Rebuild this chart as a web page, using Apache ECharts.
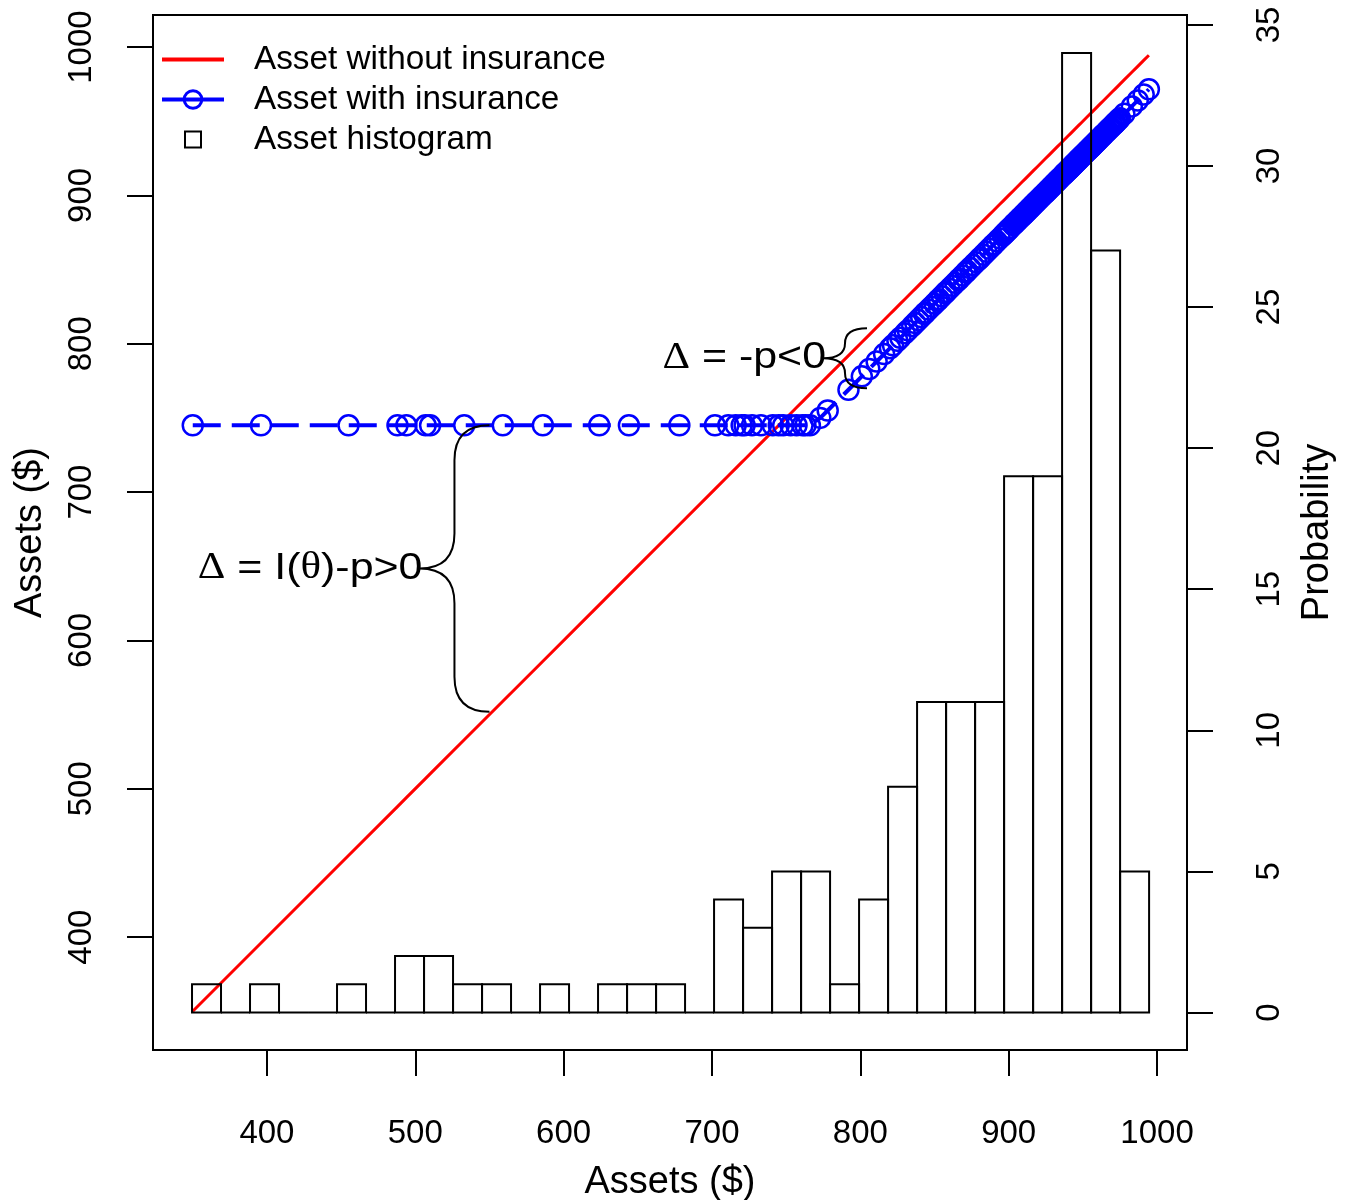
<!DOCTYPE html>
<html>
<head>
<meta charset="utf-8">
<script src="https://cdn.jsdelivr.net/npm/echarts@6/dist/echarts.min.js"></script>
<style>
  html, body { margin: 0; padding: 0; background: #ffffff; }
  #chart { width: 1352px; height: 1200px; }
</style>
</head>
<body>
<div id="chart"></div>
<script>
// Tick values for the asset axes and the probability axis
const assetTicks = [400, 500, 600, 700, 800, 900, 1000];
const probabilityTicks = [0, 5, 10, 15, 20, 25, 30, 35];

// Sample of final asset values (sorted), without insurance
const assetsWithout = [
  350, 396, 455, 488, 494, 507, 510, 533, 559, 586, 624, 644, 678,
  702, 711, 716, 720, 722, 727, 733, 741, 745, 748, 753, 757, 761, 763, 766, 773, 778, 792,
  801, 806, 811, 816,
  820, 822, 825, 827, 830, 832, 835, 837,
  839, 841, 843, 844, 846, 848, 850, 852, 853, 855, 857,
  858, 860, 862, 864, 866, 867, 869, 871, 872, 874, 876,
  878, 880, 881, 883, 885, 887, 889, 890, 892, 894, 896,
  897, 898, 899, 900, 901, 903, 904, 905, 906, 907, 908, 909, 910, 911, 912, 913, 914, 915, 916,
  917, 918, 919, 920, 921, 922, 923, 924, 925, 926, 927, 928, 929, 930, 931, 932, 933, 934, 935,
  936.5, 937, 937.5, 938, 938.5, 939, 940, 940.5, 941, 941.5, 942, 943, 943.5, 944, 944.5, 945, 946,
  946.5, 947, 947.5, 948, 949, 949.5, 950, 950.5, 951, 952, 952.5, 953, 953.5, 954, 954.5, 955, 955.5,
  956, 956.5, 957, 958, 958.5, 959, 960, 960.5, 961, 962, 963, 963.5, 964, 965, 966, 966.5, 967,
  968, 968.5, 969, 970, 971, 971.5, 972, 973, 974, 975,
  978, 983, 987, 991, 994.5
];

// The same outcomes once the insurance contract is in place
const assetsWith = [
  745, 745, 745, 745, 745, 745, 745, 745, 745, 745, 745, 745, 745,
  745, 745, 745, 745, 745, 745, 745, 745, 745, 745, 745, 745, 745, 745, 745, 750, 755, 769,
  778, 783, 788, 793,
  797, 799, 802, 804, 807, 809, 812, 814,
  816, 818, 820, 821, 823, 825, 827, 829, 830, 832, 834,
  835, 837, 839, 841, 843, 844, 846, 848, 849, 851, 853,
  855, 857, 858, 860, 862, 864, 866, 867, 869, 871, 873,
  874, 875, 876, 877, 878, 880, 881, 882, 883, 884, 885, 886, 887, 888, 889, 890, 891, 892, 893,
  894, 895, 896, 897, 898, 899, 900, 901, 902, 903, 904, 905, 906, 907, 908, 909, 910, 911, 912,
  913.5, 914, 914.5, 915, 915.5, 916, 917, 917.5, 918, 918.5, 919, 920, 920.5, 921, 921.5, 922, 923,
  923.5, 924, 924.5, 925, 926, 926.5, 927, 927.5, 928, 929, 929.5, 930, 930.5, 931, 931.5, 932, 932.5,
  933, 933.5, 934, 935, 935.5, 936, 937, 937.5, 938, 939, 940, 940.5, 941, 942, 943, 943.5, 944,
  945, 945.5, 946, 947, 948, 948.5, 949, 950, 951, 952,
  955, 960, 964, 968, 971.5
];

// Histogram of the asset sample: first break, bin width and counts per bin
const histFirstBreak = 349.5;
const histBinWidth = 19.55;
const histCounts = [
  1, 0, 1, 0, 0, 1, 0, 2, 2, 1, 1, 0, 1, 0, 1, 1, 1, 0,
  4, 3, 5, 5, 1, 4, 8, 11, 11, 11, 19, 19, 34, 27, 5
];

// Brace annotations: asset level, upper and lower ends (in $), and their labels
const braceAssets = [550, 804.5];
const braceUpper = [745, 810.5];
const braceLower = [552, 770];
const braceLabels = ['{g|Δ} = I({g|θ})-p>0', '{g|Δ} = -p<0'];

const SANS = '"Liberation Sans", Arial, Helvetica, sans-serif';
const SERIF = '"Liberation Serif", "Times New Roman", serif';
const braceDepth = [70, 44];

const histData = histCounts.map((c, i) => [
  histFirstBreak + i * histBinWidth,
  histFirstBreak + (i + 1) * histBinWidth,
  c
]);
const lineWithout = assetsWithout.map(a => [a, a]);
const lineWith = assetsWithout.map((a, i) => [a, assetsWith[i]]);
const braceData = braceAssets.map((x, i) => [x, braceUpper[i], braceLower[i]]);

const chart = echarts.init(document.getElementById('chart'), null, { renderer: 'canvas' });

const tickStyle = { show: true, inside: false, length: 26, lineStyle: { color: '#000', width: 2 } };
const labelBase = { color: '#000', fontSize: 33, fontFamily: SANS, formatter: v => String(v) };

chart.setOption({
  animation: false,
  backgroundColor: '#ffffff',
  grid: {
    left: 153, right: 165, top: 15, bottom: 150,
    show: true, borderColor: '#000', borderWidth: 2, backgroundColor: 'transparent',
    containLabel: false, outerBoundsMode: 'none'
  },
  legend: {
    orient: 'vertical', left: 155, top: 38,
    itemWidth: 62, itemHeight: 22, itemGap: 7, align: 'left',
    selectedMode: false,
    textStyle: { color: '#000', fontSize: 33.3, fontFamily: SANS, padding: [0, 0, 0, 25], lineHeight: 22 },
    data: [
      {
        name: 'Asset without insurance',
        lineStyle: { width: 4 },
        itemStyle: { color: 'rgba(0,0,0,0)', borderColor: 'rgba(0,0,0,0)', borderWidth: 0 }
      },
      { name: 'Asset with insurance', lineStyle: { type: 'solid', width: 4 }, itemStyle: { borderWidth: 3 } },
      {
        name: 'Asset histogram',
        icon: 'path://M0,0M22,22M3,3L19,3L19,19L3,19Z',
        itemStyle: { color: 'transparent', borderColor: '#000', borderWidth: 2 }
      }
    ]
  },
  xAxis: {
    type: 'value', min: 323.2, max: 1020.2,
    name: 'Assets ($)', nameLocation: 'middle', nameGap: 114,
    nameTextStyle: { color: '#000', fontSize: 38, fontFamily: SANS, lineHeight: 38 },
    axisLine: { show: false, onZero: false },
    axisTick: Object.assign({ customValues: assetTicks }, tickStyle),
    axisLabel: Object.assign({ customValues: assetTicks, margin: 67, lineHeight: 33 }, labelBase),
    splitLine: { show: false }
  },
  yAxis: [
    {
      type: 'value', position: 'left', min: 323.9, max: 1021.6,
      name: 'Assets ($)', nameLocation: 'middle', nameGap: 103,
      nameTextStyle: { color: '#000', fontSize: 38, fontFamily: SANS, lineHeight: 38 },
      axisLine: { show: false, onZero: false },
      axisTick: Object.assign({ customValues: assetTicks }, tickStyle),
      axisLabel: Object.assign({ customValues: assetTicks, rotate: 90, margin: 55, lineHeight: 33 }, labelBase),
      splitLine: { show: false }
    },
    {
      type: 'value', position: 'right', min: -1.33, max: 35.35,
      name: 'Probability', nameLocation: 'middle', nameGap: 112,
      nameTextStyle: { color: '#000', fontSize: 38, fontFamily: SANS, lineHeight: 38 },
      axisLine: { show: false, onZero: false },
      axisTick: Object.assign({ customValues: probabilityTicks }, tickStyle),
      axisLabel: Object.assign({ customValues: probabilityTicks, rotate: 90, margin: 66, lineHeight: 33 }, labelBase),
      splitLine: { show: false }
    }
  ],
  series: [
    {
      name: 'Asset without insurance',
      type: 'line', xAxisIndex: 0, yAxisIndex: 0,
      data: lineWithout, symbol: 'none', silent: true, z: 2,
      lineStyle: { color: '#ff0000', width: 3 },
      itemStyle: { color: '#ff0000' }
    },
    {
      name: 'Asset with insurance',
      type: 'line', xAxisIndex: 0, yAxisIndex: 0,
      data: lineWith, symbol: 'circle', symbolSize: 20, showAllSymbol: true, silent: true, z: 3,
      lineStyle: { color: '#0000ff', width: 4, type: [28, 11] },
      itemStyle: { color: 'rgba(0,0,0,0)', borderColor: '#0000ff', borderWidth: 2.5 }
    },
    {
      name: 'Asset histogram',
      type: 'custom', xAxisIndex: 0, yAxisIndex: 1, silent: true, z: 4,
      data: histData,
      itemStyle: { color: 'transparent', borderColor: '#000' },
      renderItem(params, api) {
        const p0 = api.coord([api.value(0), 0]);
        const p1 = api.coord([api.value(1), api.value(2)]);
        return {
          type: 'rect',
          shape: { x: p0[0], y: p1[1], width: p1[0] - p0[0], height: p0[1] - p1[1] },
          style: { fill: 'none', stroke: '#000', lineWidth: 2 }
        };
      }
    },
    {
      name: 'braces',
      type: 'custom', xAxisIndex: 0, yAxisIndex: 0, silent: true, z: 5,
      data: braceData,
      renderItem(params, api) {
        const top = api.coord([api.value(0), api.value(1)]);
        const bot = api.coord([api.value(0), api.value(2)]);
        const d = braceDepth[params.dataIndex];
        const x0 = top[0], yT = top[1], yB = bot[1];
        const yM = (yT + yB) / 2;
        const xm = x0 - d / 2, xt = x0 - d;
        const r = Math.min(d / 2, (yB - yT) / 4);
        const path =
          'M' + x0 + ',' + yT +
          'Q' + xm + ',' + yT + ' ' + xm + ',' + (yT + r) +
          'L' + xm + ',' + (yM - r) +
          'Q' + xm + ',' + yM + ' ' + xt + ',' + yM +
          'Q' + xm + ',' + yM + ' ' + xm + ',' + (yM + r) +
          'L' + xm + ',' + (yB - r) +
          'Q' + xm + ',' + yB + ' ' + x0 + ',' + yB;
        return {
          type: 'group',
          children: [
            { type: 'path', shape: { pathData: path }, style: { fill: 'none', stroke: '#000', lineWidth: 2 } },
            {
              type: 'text',
              x: xt + 3, y: yM, scaleX: 1.16,
              style: {
                text: braceLabels[params.dataIndex],
                x: 0, y: 0,
                align: 'right', verticalAlign: 'middle',
                fill: '#000', fontSize: 37, fontFamily: SANS,
                rich: { g: { fontSize: 37, fontFamily: SERIF, fill: '#000' } }
              }
            }
          ]
        };
      }
    }
  ]
});
</script>
</body>
</html>
